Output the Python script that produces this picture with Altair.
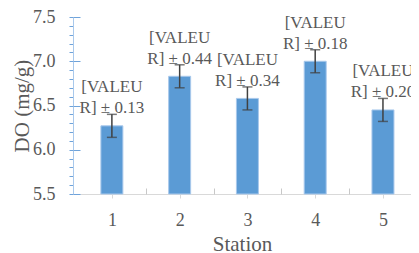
import altair as alt
import pandas as pd

stations = [1, 2, 3, 4, 5]
do_values = [6.27, 6.83, 6.58, 7.00, 6.45]
bar_err = [0.13, 0.13, 0.13, 0.13, 0.13]
label_sd = ["0.13", "0.44", "0.34", "0.18", "0.20"]
y_major = [5.5, 6.0, 6.5, 7.0, 7.5]
y_minor = [round(5.5 + 0.1 * i, 1) for i in range(21)]
x_bounds = [1.5, 2.5, 3.5, 4.5]

df = pd.DataFrame({"station": stations, "value": do_values, "err": bar_err, "sd": label_sd})
df["lo"] = df["value"] - df["err"]
df["hi"] = df["value"] + df["err"]
df["label"] = "[VALEU\nR] ± " + df["sd"]

FONT = "Liberation Serif"
TXT = "#595959"
W, H = 338, 177

xscale = alt.Scale(domain=[0.5, 5.34], nice=False, zero=False)
yscale = alt.Scale(domain=[5.5, 7.5], nice=False, zero=False)

base = alt.Chart(df)

bars = base.mark_bar(size=22, color="#5B9BD5", stroke="#A9C9EC", strokeWidth=1).encode(
    x=alt.X("station:Q", scale=xscale,
            axis=alt.Axis(values=stations, tickSize=4, tickColor="#D9D9D9", domainColor="#D9D9D9",
                          labelFontSize=18, labelFont=FONT, labelColor=TXT, labelPadding=13,
                          title="Station", titleFont=FONT, titleFontSize=21, titleColor=TXT,
                          titleFontWeight="normal", titleY=56, titleBaseline="alphabetic",
                          grid=False, format="d")),
    y=alt.Y("value:Q", scale=yscale,
            axis=alt.Axis(values=y_minor, tickSize=4, tickColor="#6FA3DA", domainColor="#A9C9EC",
                          labelExpr="round(datum.value*10) % 5 == 0 ? format(datum.value, '.1f') : ''",
                          labelFontSize=18, labelFont=FONT, labelColor=TXT, labelPadding=14,
                          title="DO (mg/g)", titleFont=FONT, titleFontSize=21, titleColor=TXT,
                          titleFontWeight="normal", titleX=-45, titleY=H / 2,
                          titleBaseline="alphabetic", grid=False)),
    y2=alt.datum(5.5),
)

errs = base.mark_rule(color="#404040", strokeWidth=1.5).encode(
    x=alt.X("station:Q", scale=xscale,
            axis=alt.Axis(orient="top", offset=-H, values=x_bounds, tickSize=6, tickColor="#C8C8C8",
                          domain=False, labels=False, title=None, grid=False)),
    y=alt.Y("lo:Q", scale=yscale,
            axis=alt.Axis(orient="right", offset=-W, values=y_major, tickSize=7, tickColor="#6FA3DA",
                          domain=False, labels=False, title=None, grid=False)),
    y2="hi:Q",
)

cap_lo = base.mark_tick(color="#404040", orient="horizontal", size=10, thickness=1.5).encode(
    x=alt.X("station:Q", scale=xscale, axis=None), y=alt.Y("lo:Q", scale=yscale, axis=None))
cap_hi = base.mark_tick(color="#404040", orient="horizontal", size=10, thickness=1.5).encode(
    x=alt.X("station:Q", scale=xscale, axis=None), y=alt.Y("hi:Q", scale=yscale, axis=None))

labels = base.mark_text(baseline="bottom", lineBreak="\n", fontSize=17, font=FONT, color=TXT,
                        lineHeight=21, dy=-18).encode(
    x=alt.X("station:Q", scale=xscale, axis=None), y=alt.Y("hi:Q", scale=yscale, axis=None),
    text="label:N")

chart = alt.layer(bars, errs, cap_lo, cap_hi, labels).resolve_axis(
    x="independent", y="independent"
).properties(
    width=W, height=H,
    autosize=alt.AutoSizeParams(type="none"),
    padding={"left": 65, "top": 9, "right": 0, "bottom": 58},
).configure_view(stroke=None)

chart.save("out.html", embed_options={"renderer": "svg", "actions": False})
